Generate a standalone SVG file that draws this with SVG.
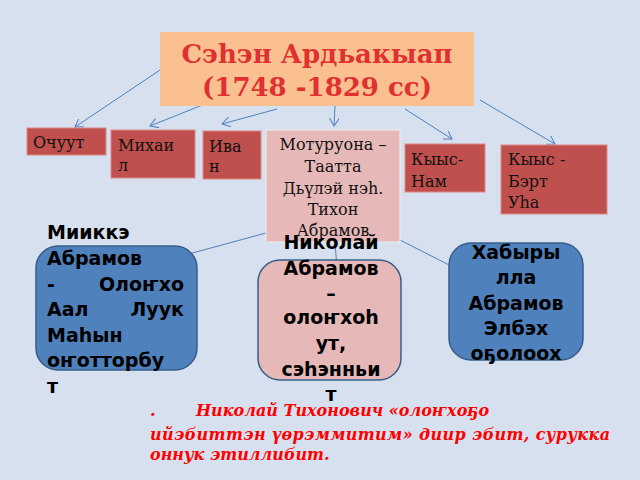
<svg xmlns="http://www.w3.org/2000/svg" width="640" height="480" viewBox="0 0 640 480">
<defs>
<marker id="a" markerWidth="10" markerHeight="10" refX="8" refY="5" orient="auto" markerUnits="userSpaceOnUse"><path d="M0,0 L8,5 L0,10" fill="none" stroke="#4f81bd" stroke-width="1"/></marker>
<style>
.r{fill:#c0504d;stroke:#d88;stroke-width:1}
.s{font-family:"DejaVu Serif",serif;font-size:16px;fill:#111}
.b{font-family:"DejaVu Sans",sans-serif;font-weight:bold;font-size:19px;fill:#000}
.c{stroke:#4f81bd;stroke-width:1;fill:none}
</style>
</defs>
<rect width="640" height="480" fill="#d6e0ef"/>
<g id="connectors">
<path class="c" d="M160,70 L75,127" marker-end="url(#a)"/>
<path class="c" d="M205,104 L150,126" marker-end="url(#a)"/>
<path class="c" d="M277,109 L222,124" marker-end="url(#a)"/>
<path class="c" d="M336,86 L334,126" marker-end="url(#a)"/>
<path class="c" d="M405,109 L452,139" marker-end="url(#a)"/>
<path class="c" d="M480,100 L555,144" marker-end="url(#a)"/>
<path class="c" d="M266,233 L185,255"/>
<path class="c" d="M335,242 L337,268"/>
<path class="c" d="M400,240 L455,268"/>
</g>
<g id="title"><rect x="160" y="32" width="314" height="74" fill="#fac090"/>
<text font-family="DejaVu Serif,serif" font-weight="bold" font-size="26" fill="#e03030" text-anchor="middle"><tspan x="317" y="63">Сэһэн Ардьакыап</tspan><tspan x="317" y="96">(1748 -1829 сс)</tspan></text></g>
<g id="n1"><rect class="r" x="27" y="128" width="79" height="27"/><text class="s" x="33" y="148">Очуут</text></g>
<g id="n2"><rect class="r" x="111" y="130" width="84" height="48"/><text class="s"><tspan x="118" y="151">Михаи</tspan><tspan x="118" y="171">л</tspan></text></g>
<g id="n3"><rect class="r" x="203" y="131" width="58" height="48"/><text class="s"><tspan x="209" y="152">Ива</tspan><tspan x="209" y="172">н</tspan></text></g>
<g id="n4"><rect x="266" y="130" width="134" height="112" fill="#e6b9b8" stroke="#eee"/><text class="s" text-anchor="middle"><tspan x="333" y="150">Мотуруона –</tspan><tspan x="333" y="172">Таатта</tspan><tspan x="333" y="194">Дьүлэй нэһ.</tspan><tspan x="333" y="215">Тихон</tspan><tspan x="333" y="236">Абрамов</tspan></text></g>
<g id="n5"><rect class="r" x="405" y="144" width="80" height="48"/><text class="s"><tspan x="411" y="165">Кыыс-</tspan><tspan x="411" y="187">Нам</tspan></text></g>
<g id="n6"><rect class="r" x="501" y="145" width="106" height="69"/><text class="s"><tspan x="508" y="165">Кыыс -</tspan><tspan x="508" y="187">Бэрт</tspan><tspan x="508" y="208">Уһа</tspan></text></g>
<g id="n7"><rect x="36" y="246" width="161" height="124" rx="22" fill="#4f81bd" stroke="#385d8a" stroke-width="1.5"/><text class="b"><tspan x="47" y="239">Мииккэ</tspan><tspan x="47" y="265">Абрамов</tspan><tspan x="47" y="291">-</tspan><tspan x="184" y="291" text-anchor="end">Олоҥхо</tspan><tspan x="47" y="316">Аал</tspan><tspan x="184" y="316" text-anchor="end">Луук</tspan><tspan x="47" y="342">Маһын</tspan><tspan x="47" y="367">оҥотторбу</tspan><tspan x="47" y="393">т</tspan></text></g>
<g id="n8"><rect x="258" y="260" width="143" height="120" rx="22" fill="#e6b9b8" stroke="#385d8a" stroke-width="1.5"/><text class="b" text-anchor="middle"><tspan x="331" y="249">Николай</tspan><tspan x="331" y="275">Абрамов</tspan><tspan x="331" y="300">–</tspan><tspan x="331" y="324">олоҥхоһ</tspan><tspan x="331" y="350">ут,</tspan><tspan x="331" y="376">сэһэнньи</tspan><tspan x="331" y="401">т</tspan></text></g>
<g id="n9"><rect x="449" y="243" width="134" height="117" rx="22" fill="#4f81bd" stroke="#385d8a" stroke-width="1.5"/><text class="b" text-anchor="middle"><tspan x="516" y="259">Хабыры</tspan><tspan x="516" y="284">лла</tspan><tspan x="516" y="310">Абрамов</tspan><tspan x="516" y="335">Элбэх</tspan><tspan x="516" y="360">оҕолоох</tspan></text></g>
<text font-family="DejaVu Serif,serif" font-weight="bold" font-style="italic" font-size="16" fill="#f00"><tspan x="150" y="416">.</tspan><tspan x="196" y="416">Николай Тихонович «олоҥхоҕо</tspan><tspan x="150" y="440" textLength="460">ийэбиттэн үөрэммитим» диир эбит, сурукка</tspan><tspan x="150" y="460">оннук этиллибит.</tspan></text>
</svg>
